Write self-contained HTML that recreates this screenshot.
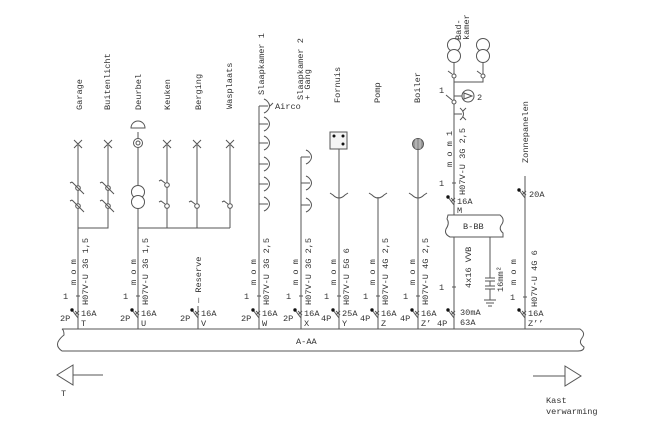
<!DOCTYPE html>
<html><head><meta charset="utf-8"><style>
html,body{margin:0;padding:0;background:#fff;}
svg{display:block;}
text{font-family:"Liberation Mono",monospace;font-size:8.6px;fill:#333;}
</style></head><body>
<svg width="666" height="426" viewBox="0 0 666 426" xmlns="http://www.w3.org/2000/svg">
<g fill="none" stroke="#555" stroke-width="1">
<!-- bus -->
<path d="M62,329 H580 Q586,333 582,338 Q578,343 584,347 Q584,351 578,351 H62 Q56,347 58,342 Q60,338 64,335 Q64,330 62,329 Z"/>
<!-- arrows -->
<path d="M73,365 L57,375 L73,385 Z M73,375 H103"/>
<path d="M565,366 L581,376 L565,386 Z M533,376 H565"/>

<!-- Left circuits -->
<path d="M78,144 V329 M108,144 V228 H78"/>
<path d="M138,132 V329 M138,228 H230 M167,144 V228 M197,144 V228 M230,144 V228"/>
<!-- crosses -->
<path d="M74,140 l8,8 M82,140 l-8,8 M104,140 l8,8 M112,140 l-8,8 M163,140 l8,8 M171,140 l-8,8 M193,140 l8,8 M201,140 l-8,8 M226,140 l8,8 M234,140 l-8,8"/>
<!-- switches -->
<g>
<circle cx="78" cy="188" r="2.3" fill="#fff"/><path d="M72,182 L84,194 M72,182 l-2,1"/>
<circle cx="78" cy="206" r="2.3" fill="#fff"/><path d="M72,200 L84,212 M72,200 l-2,1"/>
<circle cx="108" cy="188" r="2.3" fill="#fff"/><path d="M102,182 L114,194 M102,182 l-2,1"/>
<circle cx="108" cy="206" r="2.3" fill="#fff"/><path d="M102,200 L114,212 M102,200 l-2,1"/>
<circle cx="167" cy="185" r="2.3" fill="#fff"/><path d="M165,183 L161,180 l-2,1"/>
<circle cx="167" cy="206" r="2.3" fill="#fff"/><path d="M165,204 L161,201 l-2,1"/>
<circle cx="197" cy="206" r="2.3" fill="#fff"/><path d="M195,204 L191,201 l-2,1"/>
<circle cx="230" cy="206" r="2.3" fill="#fff"/><path d="M228,204 L224,201 l-2,1"/>
</g>
<!-- deurbel -->
<path d="M131,128 A7,7 0 0 1 145,128 Z" fill="#fff"/>
<circle cx="138" cy="143" r="4.5" fill="#fff"/><circle cx="138" cy="143" r="2"/>
<circle cx="138" cy="192" r="6.5" fill="#fff"/><circle cx="138" cy="202" r="6.5" fill="#fff"/>

<!-- Slaapkamer 1 -->
<path d="M259,106 V329"/>
<g id="s1">
<path d="M259,106 H268 M266,100 Q273,106 266,112 M264,99 l2,1 M264,113 l2,-1 M270,106 l3,-3"/>
</g>
<path d="M259,124 H268 M266,118 Q273,124 266,130 M264,117 l2,1 M264,131 l2,-1"/>
<path d="M259,143 H268 M266,137 Q273,143 266,149 M264,136 l2,1 M264,150 l2,-1"/>
<path d="M259,164 H268 M266,158 Q273,164 266,170 M264,157 l2,1 M264,171 l2,-1"/>
<path d="M259,184 H268 M266,178 Q273,184 266,190 M264,177 l2,1 M264,191 l2,-1"/>
<path d="M259,204 H268 M266,198 Q273,204 266,210 M264,197 l2,1 M264,211 l2,-1"/>
<!-- Slaapkamer 2 -->
<path d="M301,157 V329"/>
<path d="M301,157 H310 M308,151 Q315,157 308,163 M306,150 l2,1 M306,164 l2,-1"/>
<path d="M301,183 H310 M308,177 Q315,183 308,189 M306,176 l2,1 M306,190 l2,-1"/>
<path d="M301,205 H310 M308,199 Q315,205 308,211 M306,198 l2,1 M306,212 l2,-1"/>
<!-- Fornuis -->
<rect x="330" y="132" width="17" height="17" fill="#f4f4f4"/>
<path d="M339,149 V329"/>
<path d="M330,193 L333,195 Q339,201 345,195 L348,193"/>
<!-- Pomp -->
<path d="M378,197 V329 M369,193 L372,195 Q378,201 384,195 L387,193"/>
<!-- Boiler -->
<circle cx="418" cy="144" r="5.5" fill="#999"/>
<path d="M416,139 V149 M420,139 V149" stroke="#ccc"/>
<path d="M418,150 V329 M409,193 L412,195 Q418,201 424,195 L427,193"/>

<!-- Badkamer -->
<circle cx="454" cy="45" r="6.5" fill="#fff"/><circle cx="454" cy="56" r="6.5" fill="#fff"/>
<circle cx="483" cy="45" r="6.5" fill="#fff"/><circle cx="483" cy="56" r="6.5" fill="#fff"/>
<path d="M454,63 V200 M483,63 V82 H454"/>
<circle cx="454" cy="76" r="2" fill="#fff"/><path d="M452,74 l-4,-3"/>
<circle cx="483" cy="76" r="2" fill="#fff"/><path d="M481,74 l-4,-3"/>
<path d="M454,96 H462"/><circle cx="468" cy="96" r="6" fill="#fff"/><path d="M464,93 L472,96 L464,99 Z"/>
<circle cx="454" cy="102" r="2" fill="#fff"/><path d="M452,100 l-6,-5"/>
<path d="M454,114 H462 M460,108 Q467,114 460,120 M466,108 l-3,3 M466,120 l-3,-3"/>
<!-- B-BB -->
<path d="M454,200 V215 M448,215 H500 Q505,219 502,224 Q498,229 503,233 V237 H450 Q444,234 446,229 Q450,223 447,219 Z"/>
<path d="M454,237 V329 M490,237 V278 M485,278 H495 M485,281 H495 M490,281 V286 M485,286 H495 M485,289 H495 M490,289 V300 M484,300 H496 M486,303 H494 M488,306 H492"/>
<!-- Zonnepanelen -->
<path d="M525,176 V188 M525,198 V329"/>

<!-- breakers -->
<g>
<path d="M78,306 V318 L72,310 M75,311 l4,4 M79,311 l-4,4"/>
<path d="M138,306 V318 L132,310 M135,311 l4,4 M139,311 l-4,4"/>
<path d="M198,306 V329 M198,318 L192,310 M195,311 l4,4 M199,311 l-4,4"/>
<path d="M198,318 V329"/>
<path d="M259,306 V318 L253,310 M256,311 l4,4 M260,311 l-4,4"/>
<path d="M301,306 V318 L295,310 M298,311 l4,4 M302,311 l-4,4"/>
<path d="M339,306 V318 L333,310 M336,311 l4,4 M340,311 l-4,4"/>
<path d="M378,306 V318 L372,310 M375,311 l4,4 M379,311 l-4,4"/>
<path d="M418,306 V318 L412,310 M415,311 l4,4 M419,311 l-4,4"/>
<path d="M454,306 V318 L448,310 M451,311 l4,4 M455,311 l-4,4"/>
<path d="M525,306 V318 L519,310 M522,311 l4,4 M526,311 l-4,4"/>
<path d="M454,192 V205 L448,197 M451,198 l4,4 M455,198 l-4,4"/>
<path d="M525,188 V198 L519,190 M522,191 l4,4 M526,191 l-4,4"/>
</g>
<!-- ticks -->
<path d="M76,296 h4 M136,296 h4 M257,296 h4 M299,296 h4 M337,296 h4 M376,296 h4 M416,296 h4 M452,287 h4 M452,183 h4 M523,297 h4"/>
</g>
<g fill="#111">
<circle cx="72" cy="310" r="1.7"/><circle cx="132" cy="310" r="1.7"/><circle cx="192" cy="310" r="1.7"/>
<circle cx="253" cy="310" r="1.7"/><circle cx="295" cy="310" r="1.7"/><circle cx="333" cy="310" r="1.7"/>
<circle cx="372" cy="310" r="1.7"/><circle cx="412" cy="310" r="1.7"/><circle cx="448" cy="310" r="1.7"/>
<circle cx="519" cy="310" r="1.7"/><circle cx="448" cy="197" r="1.7"/><circle cx="519" cy="190" r="1.7"/>
<circle cx="334" cy="136" r="1.5"/><circle cx="343" cy="136" r="1.5"/><circle cx="343" cy="144" r="1.5"/>
</g>

<!-- top labels -->
<g>
<text transform="translate(82,110) rotate(-90)">Garage</text>
<text transform="translate(110,110) rotate(-90)">Buitenlicht</text>
<text transform="translate(141,110) rotate(-90)">Deurbel</text>
<text transform="translate(170,110) rotate(-90)">Keuken</text>
<text transform="translate(201,110) rotate(-90)">Berging</text>
<text transform="translate(232,109) rotate(-90)">Wasplaats</text>
<text transform="translate(264,95) rotate(-90)">Slaapkamer 1</text>
<text transform="translate(303,100) rotate(-90)">Slaapkamer 2</text>
<text transform="translate(310,100) rotate(-90)">+ Gang</text>
<text transform="translate(340,103) rotate(-90)">Fornuis</text>
<text transform="translate(380,103) rotate(-90)">Pomp</text>
<text transform="translate(420,103) rotate(-90)">Boiler</text>
<text transform="translate(528,163) rotate(-90)">Zonnepanelen</text>
<text transform="translate(461,40) rotate(-90)">Bad-</text>
<text transform="translate(469,40) rotate(-90)">kamer</text>
<text x="275" y="109">Airco</text>
<text x="439" y="93">1</text><text x="477" y="100">2</text>
</g>
<!-- cable labels -->
<g>
<text transform="translate(88,305) rotate(-90)">H07V-U 3G 1,5</text>
<text transform="translate(76,285) rotate(-90)">m o m</text>
<text transform="translate(148,305) rotate(-90)">H07V-U 3G 1,5</text>
<text transform="translate(136,285) rotate(-90)">m o m</text>
<text transform="translate(201,303) rotate(-90)">— Reserve</text>
<text transform="translate(269,305) rotate(-90)">H07V-U 3G 2,5</text>
<text transform="translate(256,285) rotate(-90)">m o m</text>
<text transform="translate(311,305) rotate(-90)">H07V-U 3G 2,5</text>
<text transform="translate(298,285) rotate(-90)">m o m</text>
<text transform="translate(349,305) rotate(-90)">H07V-U 5G 6</text>
<text transform="translate(336,285) rotate(-90)">m o m</text>
<text transform="translate(388,305) rotate(-90)">H07V-U 4G 2,5</text>
<text transform="translate(375,285) rotate(-90)">m o m</text>
<text transform="translate(428,305) rotate(-90)">H07V-U 4G 2,5</text>
<text transform="translate(415,285) rotate(-90)">m o m</text>
<text transform="translate(465,195) rotate(-90)">H07V-U 3G 2,5</text>
<text transform="translate(452,167) rotate(-90)">m o m 1</text>
<text transform="translate(471,288) rotate(-90)">4x16 VVB</text>
<text transform="translate(503,292) rotate(-90)">16mm²</text>
<text transform="translate(537,307) rotate(-90)">H07V-U 4G 6</text>
<text transform="translate(516,285) rotate(-90)">m o m</text>
</g>
<!-- ticks "1" -->
<g>
<text x="63" y="299">1</text><text x="123" y="299">1</text><text x="244" y="299">1</text>
<text x="286" y="299">1</text><text x="324" y="299">1</text><text x="363" y="299">1</text>
<text x="403" y="299">1</text><text x="439" y="290">1</text><text x="439" y="186">1</text>
<text x="510" y="300">1</text>
</g>
<!-- breaker labels -->
<g>
<text x="60" y="321">2P</text><text x="81" y="316">16A</text><text x="81" y="326">T</text>
<text x="120" y="321">2P</text><text x="141" y="316">16A</text><text x="141" y="326">U</text>
<text x="180" y="321">2P</text><text x="201" y="316">16A</text><text x="201" y="326">V</text>
<text x="241" y="321">2P</text><text x="262" y="316">16A</text><text x="262" y="326">W</text>
<text x="283" y="321">2P</text><text x="304" y="316">16A</text><text x="304" y="326">X</text>
<text x="321" y="321">4P</text><text x="342" y="316">25A</text><text x="342" y="326">Y</text>
<text x="360" y="321">4P</text><text x="381" y="316">16A</text><text x="381" y="326">Z</text>
<text x="400" y="321">4P</text><text x="421" y="316">16A</text><text x="421" y="326">Z’</text>
<text x="437" y="326">4P</text><text x="460" y="315">30mA</text><text x="460" y="325">63A</text>
<text x="528" y="316">16A</text><text x="528" y="326">Z’’</text>
<text x="457" y="204">16A</text><text x="457" y="213">M</text>
<text x="529" y="197">20A</text>
<text x="463" y="229">B-BB</text>
<text x="296" y="344">A-AA</text>
<text x="61" y="396">T</text>
<text x="546" y="403">Kast</text>
<text x="546" y="414">verwarming</text>
</g>
</svg>
</body></html>
